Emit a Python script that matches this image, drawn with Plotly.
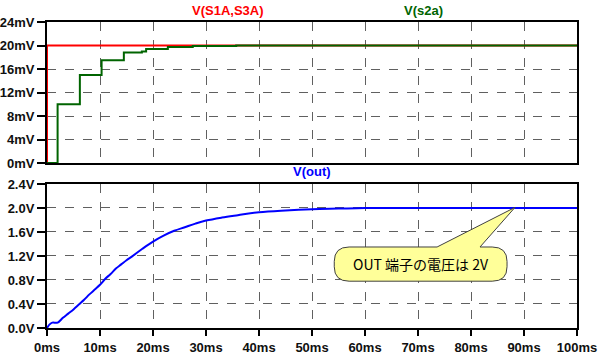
import plotly.graph_objects as go

# ---- data ----
red_t = [0, 0, 100]
red_v = [0, 20, 20]

green_t = [0, 2.0, 6.2, 10.3, 14.5, 17.9, 18.7, 22.8, 27.5, 35.7, 100]
green_v = [0, 10, 15, 17.5, 18.8, 19.0, 19.4, 19.75, 19.9, 20, 20]

out_t = [0, 0.5, 1, 2, 3, 4, 5, 6, 7, 8, 9, 10, 11, 12, 13, 14, 15, 16, 18, 20,
         22, 24, 26, 28, 30, 33, 36, 40, 45, 50, 55, 60, 70, 80, 90, 100]
out_v = [0, 0.06, 0.09, 0.09, 0.17, 0.24, 0.31, 0.39, 0.47, 0.56, 0.64, 0.72, 0.82,
         0.90, 0.99, 1.06, 1.13, 1.19, 1.32, 1.44, 1.54, 1.62, 1.68, 1.74, 1.79,
         1.84, 1.88, 1.93, 1.96, 1.98, 1.99, 2.0, 2.0, 2.0, 2.0, 2.0]

x_ticks = [0, 10, 20, 30, 40, 50, 60, 70, 80, 90, 100]
x_labels = ["0ms", "10ms", "20ms", "30ms", "40ms", "50ms", "60ms", "70ms", "80ms", "90ms", "100ms"]
top_ticks = [0, 4, 8, 12, 16, 20, 24]
top_labels = ["0mV", "4mV", "8mV", "12mV", "16mV", "20mV", "24mV"]
bot_ticks = [0, 0.4, 0.8, 1.2, 1.6, 2.0, 2.4]
bot_labels = ["0.0V", "0.4V", "0.8V", "1.2V", "1.6V", "2.0V", "2.4V"]

RED = "#FF0000"
GREEN = "#006400"
BLUE = "#0000FF"
FONT = "Liberation Sans"

def bold(labels):
    return [f"<b>{s}</b>" for s in labels]

fig = go.Figure()
fig.add_trace(go.Scatter(x=red_t, y=red_v, mode="lines", line=dict(color=RED, width=2),
                         xaxis="x", yaxis="y", cliponaxis=False, showlegend=False))
fig.add_trace(go.Scatter(x=green_t, y=green_v, mode="lines", line=dict(color=GREEN, width=2, shape="hv"),
                         xaxis="x", yaxis="y", cliponaxis=False, showlegend=False))
fig.add_trace(go.Scatter(x=out_t, y=out_v, mode="lines", line=dict(color=BLUE, width=2, shape="spline"),
                         xaxis="x2", yaxis="y2", cliponaxis=False, showlegend=False))

axis_common = dict(showline=True, linecolor="black", linewidth=2, mirror=True,
                   showgrid=True, gridcolor="#606060", gridwidth=1, griddash="dash",
                   zeroline=False, layer="below traces", automargin=False,
                   tickfont=dict(family=FONT, size=13, color="#101010"))

fig.update_layout(
    width=600, height=354,
    margin=dict(l=47, r=23, t=22, b=26),
    paper_bgcolor="white", plot_bgcolor="white",
    font=dict(family=FONT),
    xaxis=dict(domain=[0, 1], range=[0, 100], tickvals=x_ticks, showticklabels=False,
               ticks="", anchor="y", **axis_common),
    yaxis=dict(domain=[0.5392, 1], range=[0, 24], tickvals=top_ticks, ticktext=bold(top_labels),
               ticks="outside", ticklen=8, tickwidth=2, tickcolor="black", anchor="x", **axis_common),
    xaxis2=dict(domain=[0, 1], range=[0, 100], tickvals=x_ticks, ticktext=bold(x_labels),
                ticks="outside", ticklen=6, tickwidth=2, tickcolor="black", anchor="y2", **axis_common),
    yaxis2=dict(domain=[0, 0.4706], range=[0, 2.4], tickvals=bot_ticks, ticktext=bold(bot_labels),
                ticks="outside", ticklen=8, tickwidth=2, tickcolor="black", anchor="x2", **axis_common),
)

# titles
title_font = dict(family=FONT, size=13)
fig.add_annotation(text="<b>V(S1A,S3A)</b>", x=0.27, y=1, xref="paper", yref="paper",
                   yanchor="bottom", yshift=2, showarrow=False, font=dict(color=RED, **title_font))
fig.add_annotation(text="<b>V(s2a)</b>", x=0.751, y=1, xref="paper", yref="paper",
                   yanchor="bottom", yshift=2, showarrow=False, font=dict(color=GREEN, **title_font))
fig.add_annotation(text="<b>V(out)</b>", x=0.5, y=0.4706, xref="paper", yref="paper",
                   yanchor="bottom", yshift=3, showarrow=False, font=dict(color=BLUE, **title_font))

# callout bubble
x0, x1, y0, y1 = 54.2, 86.8, 0.78, 1.35
rx, ry = 2.8, 0.24
ta, tb = 73.6, 81.7
tip_x, tip_y = 88.3, 2.01
path = (f"M {x0+rx},{y1} L {ta},{y1} L {tip_x},{tip_y} L {tb},{y1} L {x1-rx},{y1} "
        f"Q {x1},{y1} {x1},{y1-ry} L {x1},{y0+ry} Q {x1},{y0} {x1-rx},{y0} "
        f"L {x0+rx},{y0} Q {x0},{y0} {x0},{y0+ry} L {x0},{y1-ry} Q {x0},{y1} {x0+rx},{y1} Z")
fig.add_shape(type="path", path=path, xref="x2", yref="y2",
              fillcolor="#FFFF99", line=dict(color="#404040", width=1), layer="above")
fig.add_annotation(text="OUT 端子の電圧は 2V", x=(x0 + x1) / 2, y=(y0 + y1) / 2, xref="x2", yref="y2",
                   showarrow=False, font=dict(family="Noto Sans CJK JP", size=14, color="black"))

fig.write_html("out.html")
